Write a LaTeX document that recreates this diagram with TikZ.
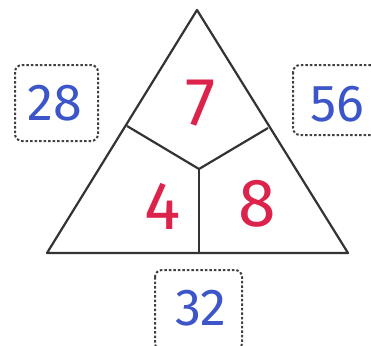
\documentclass[tikz,border=0pt]{standalone}
\usepackage{fontspec}
\setmainfont{Fira Sans}
\begin{document}
\begin{tikzpicture}[x=1pt,y=-1pt,
  edge/.style={line width=2.2pt, draw=black!80, line join=round},
  numbox/.style={draw=black!75, line width=2pt, dash pattern=on 2.5pt off 2pt, rounded corners=7pt},
  bluenum/.style={font=\fontsize{52}{52}\selectfont},
  rednum/.style={font=\fontsize{68}{68}\selectfont}]
\useasboundingbox (0,0) rectangle (371,345);
\definecolor{penblue}{RGB}{60,85,200}
\definecolor{penred}{RGB}{220,35,75}
\coordinate (A) at (197,10);
\coordinate (BL) at (47,253);
\coordinate (BR) at (348,253);
\coordinate (J) at (199,169);
\coordinate (L) at (127,126);
\coordinate (R) at (268,128);
\coordinate (B) at (199,253);
\draw[edge] (A) -- (BL) -- (BR) -- cycle;
\draw[edge] (L) -- (J) -- (R);
\draw[edge] (J) -- (B);
\draw[numbox] (15,65) rectangle (98,141);
\draw[numbox] (293,65) rectangle (378,135);
\draw[numbox] (155,270) rectangle (242,350);
\node[bluenum, text=penblue] (n28) at (55,103) {28};
\node[bluenum, text=penblue] (n56) at (337,104) {56};
\node[bluenum, text=penblue] (n32) at (201,308) {32};
\node[rednum, text=penred] (n7) at (201,103) {7};
\node[rednum, text=penred] (n4) at (163,206) {4};
\node[rednum, text=penred] (n8) at (257,204) {8};
\end{tikzpicture}
\end{document}
